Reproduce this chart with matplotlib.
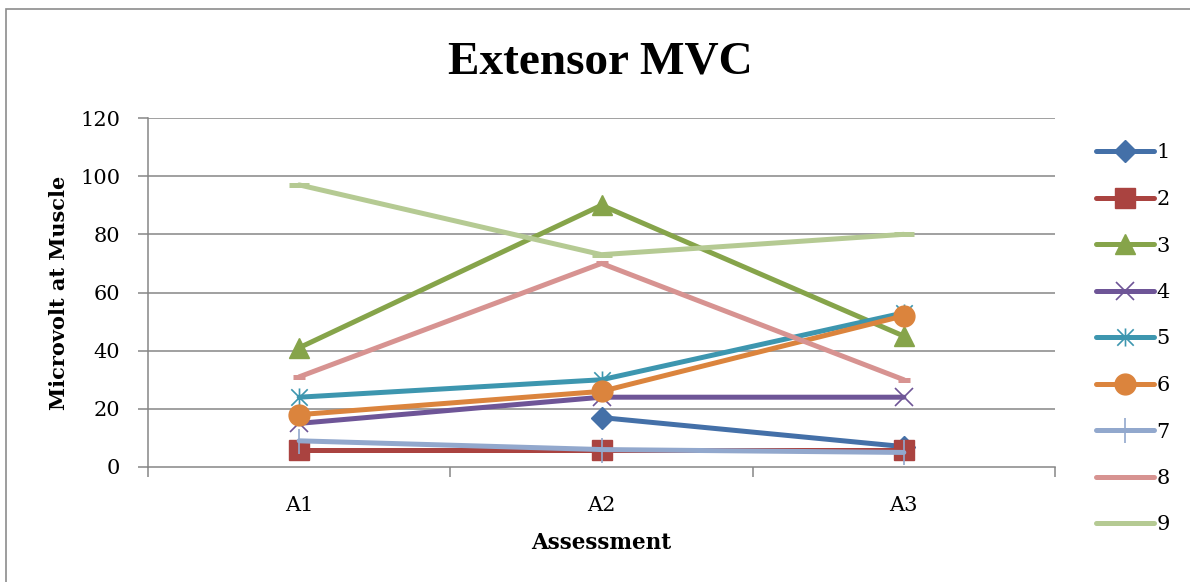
import numpy as np
import matplotlib
matplotlib.use("Agg")
import matplotlib.pyplot as plt
from matplotlib.path import Path
from matplotlib.patches import Rectangle

plt.rcParams['font.family'] = ['DejaVu Serif', 'Liberation Serif']

categories = ["A1", "A2", "A3"]
series_names = ["1", "2", "3", "4", "5", "6", "7", "8", "9"]
s1 = [np.nan, 17, 7]
s2 = [6, 6, 6]
s3 = [41, 90, 45]
s4 = [15, 24, 24]
s5 = [24, 30, 53]
s6 = [18, 26, 52]
s7 = [9, 6, 5]
s8 = [31, 70, 30]
s9 = [97, 73, 80]
values = [s1, s2, s3, s4, s5, s6, s7, s8, s9]

colors = ["#4470A8", "#AA4340", "#86A44A", "#6E5597", "#3D96AF",
          "#DB843D", "#92A8CD", "#D79391", "#B5CA93"]

# Excel-style "star": an x with a vertical stroke through it
star = Path([(-1, -1), (1, 1), (-1, 1), (1, -1), (0, -1.1), (0, 1.1)],
            [Path.MOVETO, Path.LINETO, Path.MOVETO, Path.LINETO,
             Path.MOVETO, Path.LINETO])

marker_styles = [
    dict(marker="D", ms=11, mew=1),
    dict(marker="s", ms=14, mew=1),
    dict(marker="^", ms=14, mew=1),
    dict(marker="x", ms=13, mew=1.2),
    dict(marker=star, ms=13, mew=1.2),
    dict(marker="o", ms=15, mew=1),
    dict(marker="|", ms=18, mew=1.2),
    dict(marker="_", ms=9, mew=3.6),
    dict(marker="_", ms=14, mew=3.6),
]

fig = plt.figure(figsize=(11.9, 5.82), dpi=100)
fig.patches.append(Rectangle((5.5 / 1190, -0.1), 1.2, 1 - 8.5 / 582 + 0.1,
                             transform=fig.transFigure, fill=False,
                             edgecolor="#8C8C8C", lw=1.2))

ax = fig.add_axes([148 / 1190, 1 - 467 / 582, (1055 - 148) / 1190, (467 - 118) / 582])

x = np.arange(len(categories)) + 0.5
grid_c = "#868686"
for yv in range(20, 121, 20):
    ax.axhline(yv, color=grid_c, lw=1.1, zorder=1)

handles = []
for name, vals, c, ms in zip(series_names, values, colors, marker_styles):
    h, = ax.plot(x, vals, color=c, lw=3.6, solid_capstyle="round",
                 markerfacecolor=c, markeredgecolor=c, label=name, zorder=3, **ms)
    handles.append(h)

ax.set_xlim(0, 3)
ax.set_ylim(0, 120)
ax.set_yticks(range(0, 121, 20))
ax.set_xticks([0, 1, 2, 3])
ax.set_xticklabels([])
ax.set_xticks(x, minor=True)
ax.set_xticklabels(categories, minor=True)
ax.tick_params(axis="x", which="major", length=7, width=1.1, color=grid_c, direction="out")
ax.tick_params(axis="x", which="minor", length=0, pad=21, labelsize=15)
ax.tick_params(axis="y", length=7, width=1.1, color=grid_c, direction="out", pad=13, labelsize=15)

for side in ["top", "right"]:
    ax.spines[side].set_visible(False)
for side in ["left", "bottom"]:
    ax.spines[side].set_color(grid_c)
    ax.spines[side].set_linewidth(1.1)

ax.set_xlabel("Assessment", fontsize=15.5, fontweight="bold", labelpad=12)
ax.set_ylabel("Microvolt at Muscle", fontsize=15, fontweight="bold", labelpad=8)

fig.text(600 / 1190, 1 - 62 / 582, "Extensor MVC", fontsize=34, fontweight="bold",
         family="Liberation Serif", ha="center", va="center")

leg = fig.legend(handles=handles, loc="center left",
                 bbox_to_anchor=(1086 / 1190, 1 - 339 / 582),
                 frameon=False, fontsize=15, handlelength=2.75,
                 handletextpad=0.12, labelspacing=1.32, borderpad=0)

fig.savefig("out.png", dpi=100)
